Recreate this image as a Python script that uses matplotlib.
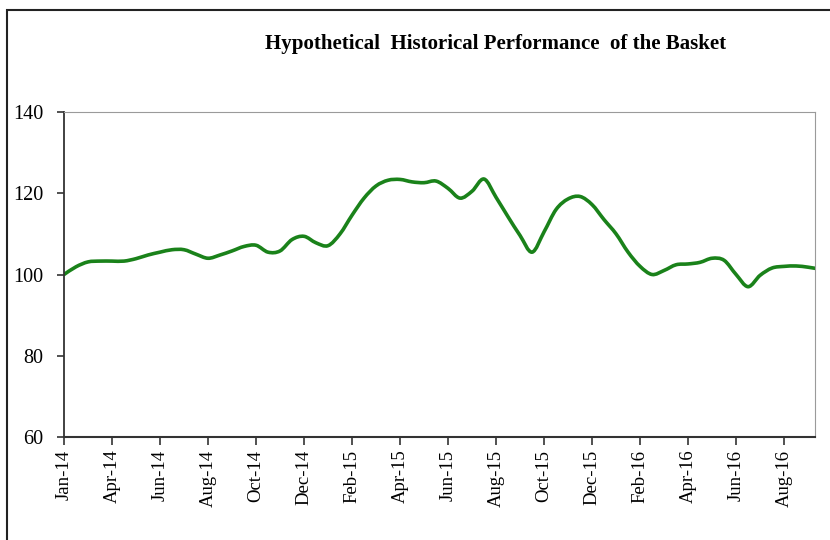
import matplotlib
matplotlib.use("Agg")
import matplotlib.pyplot as plt
from matplotlib.patches import Rectangle, PathPatch
from matplotlib.path import Path

# basket level, read every half step (ticks are every 2 steps)
steps = [k * 0.5 for k in range(64)]
basket = [
    100.0, 101.9, 103.1, 103.3, 103.3, 103.3, 103.9, 104.8,
    105.5, 106.1, 106.1, 105.0, 104.0, 104.8, 105.8, 106.9,
    107.2, 105.5, 105.8, 108.6, 109.4, 107.8, 107.1, 110.0,
    114.6, 118.8, 121.8, 123.2, 123.4, 122.8, 122.6, 123.0,
    121.2, 118.8, 120.5, 123.5, 119.0, 114.2, 109.6, 105.5,
    110.5, 116.0, 118.6, 119.2, 117.2, 113.5, 110.0, 105.5,
    102.0, 100.0, 101.0, 102.4, 102.6, 103.0, 104.0, 103.5,
    100.0, 97.0, 99.8, 101.6, 102.0, 102.1, 101.8, 101.3,
]
tick_labels = ["Jan-14", "Apr-14", "Jun-14", "Aug-14", "Oct-14", "Dec-14",
               "Feb-15", "Apr-15", "Jun-15", "Aug-15", "Oct-15", "Dec-15",
               "Feb-16", "Apr-16", "Jun-16", "Aug-16"]
y_ticks = [60, 80, 100, 120, 140]

plt.rcParams["font.family"] = ["Liberation Serif", "DejaVu Serif"]

fig = plt.figure(figsize=(8.3, 5.4), dpi=100)
ax = fig.add_axes([0.0771, 0.1907, 0.9049, 0.6019])

# outer chart frame (only left and top edges visible)
fig.patches.append(Rectangle((0.008, -0.1), 1.2, 1.081, transform=fig.transFigure,
                             fill=False, edgecolor="#222222", linewidth=1.5))

# smoothed line like Excel's: cubic bezier segments through the points
pts = list(zip(steps, basket))
verts = [pts[0]]
codes = [Path.MOVETO]
n = len(pts)
for i in range(n - 1):
    p0 = pts[max(i - 1, 0)]
    p1 = pts[i]
    p2 = pts[i + 1]
    p3 = pts[min(i + 2, n - 1)]
    c1 = (p1[0] + (p2[0] - p0[0]) / 6, p1[1] + (p2[1] - p0[1]) / 6)
    c2 = (p2[0] - (p3[0] - p1[0]) / 6, p2[1] - (p3[1] - p1[1]) / 6)
    verts += [c1, c2, p2]
    codes += [Path.CURVE4] * 3
line = PathPatch(Path(verts, codes), fill=False, edgecolor="#1a821a",
                 linewidth=2.6, capstyle="round", joinstyle="round")
ax.add_patch(line)

ax.set_xlim(0, 31.29)
ax.set_ylim(60, 140)
ax.set_xticks([2 * i for i in range(len(tick_labels))])
ax.set_xticklabels(tick_labels, rotation=90, fontsize=13.5)
ax.set_yticks(y_ticks)
ax.set_yticklabels([str(v) for v in y_ticks], fontsize=14.5)
ax.tick_params(axis="x", direction="out", length=6, width=1.2, pad=3, color="#333333")
ax.tick_params(axis="y", direction="out", length=5, width=1.2, pad=10, color="#333333")

ax.spines["left"].set_color("#333333")
ax.spines["bottom"].set_color("#333333")
ax.spines["left"].set_linewidth(1.3)
ax.spines["bottom"].set_linewidth(1.5)
ax.spines["top"].set_color("#9a9a9a")
ax.spines["right"].set_color("#9a9a9a")

fig.text(0.597, 0.918, "Hypothetical  Historical Performance  of the Basket",
         ha="center", va="center", fontsize=15, fontweight="bold")

fig.savefig("out.png", dpi=100)
